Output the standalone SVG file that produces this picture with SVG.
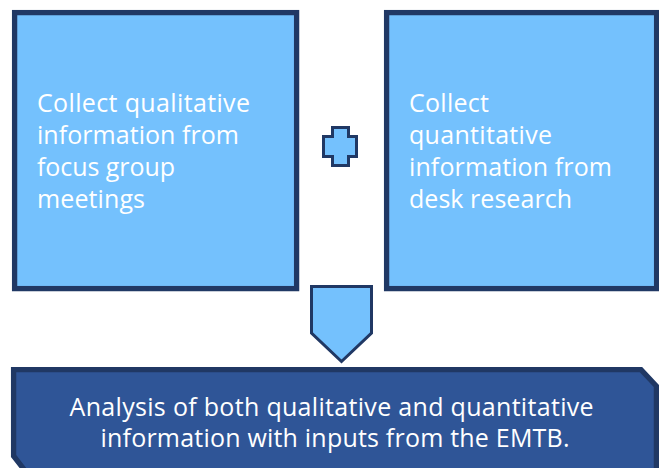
<svg xmlns="http://www.w3.org/2000/svg" width="659" height="468" viewBox="0 0 659 468">
  <style>
    .box { fill: #74C1FD; stroke: #203864; stroke-width: 5.3; }
    .sym { fill: #74C1FD; stroke: #203864; stroke-width: 3; stroke-linejoin: miter; }
    .result { fill: #2F5597; stroke: #203864; stroke-width: 5.3; }
    .label { font-family: "Open Sans", "Noto Sans", "Liberation Sans", sans-serif; font-size: 25px; fill: #FFFFFF; }
    .center { text-anchor: middle; }
  </style>
  <rect width="659" height="468" fill="#FFFFFF"/>

  <g id="qualitative">
    <rect class="box" x="14.6" y="12.6" width="282" height="276"/>
    <text class="label">
      <tspan x="37" y="112" textLength="213">Collect qualitative</tspan>
      <tspan x="37" y="144" textLength="202">information from</tspan>
      <tspan x="37" y="176" textLength="138">focus group</tspan>
      <tspan x="37" y="207.5" textLength="108">meetings</tspan>
    </text>
  </g>

  <g id="plus">
    <path class="sym" d="M332.5,127.5 H348.5 V136.5 H356.5 V156.5 H348.5 V165.5 H332.5 V156.5 H323.5 V136.5 H332.5 Z"/>
  </g>

  <g id="quantitative">
    <rect class="box" x="386.6" y="12.6" width="270" height="276"/>
    <text class="label">
      <tspan x="409" y="112" textLength="80">Collect</tspan>
      <tspan x="409" y="144" textLength="143">quantitative</tspan>
      <tspan x="409" y="176" textLength="203">information from</tspan>
      <tspan x="409" y="207.5" textLength="163">desk research</tspan>
    </text>
  </g>

  <g id="connectors">
    <path class="sym" d="M311.5,286.5 H371.5 V333 L341.5,361.5 L311.5,333 Z"/>
  </g>

  <g id="analysis">
    <path class="result" d="M13.6,369.6 H641 L656.4,386 V490 H40 L13.6,456 Z"/>
    <text class="label center">
      <tspan x="335" y="416" textLength="524">Analysis of both qualitative and quantitative</tspan>
      <tspan x="335" y="447" textLength="469">information with inputs from the EMTB.</tspan>
    </text>
  </g>
</svg>
